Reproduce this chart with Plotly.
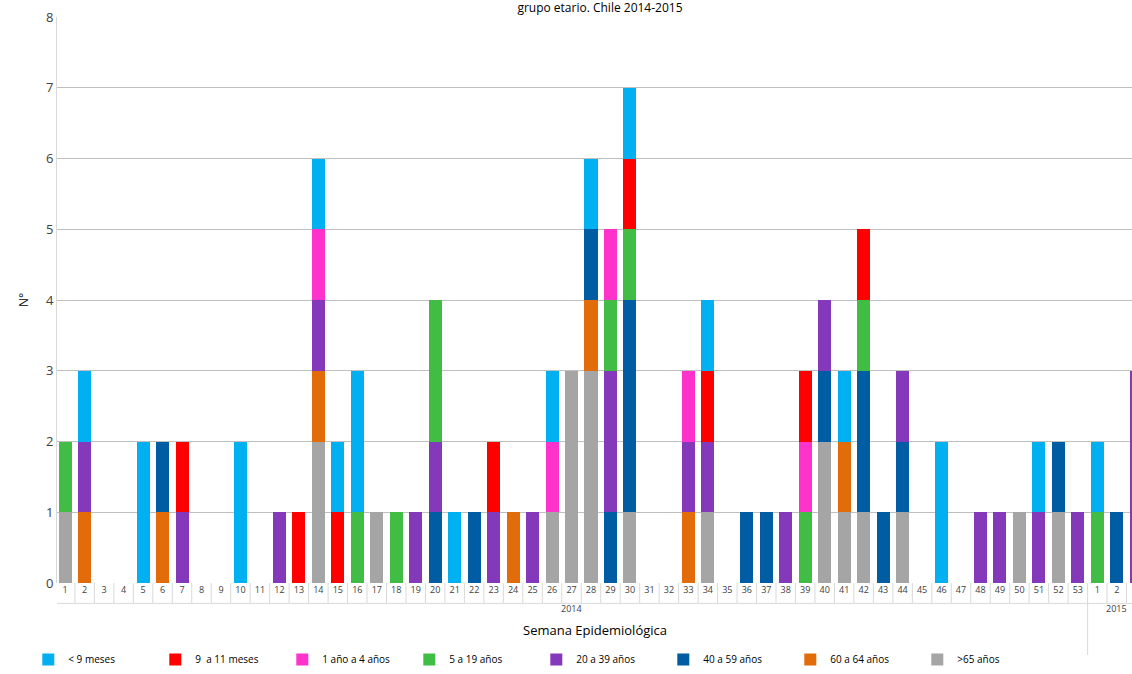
import plotly.graph_objects as go

weeks = [str(i) for i in range(1, 54)] + ["1", "2", "3"]
years = ["2014"] * 53 + ["2015"] * 3
n = len(weeks)

def series(d):
    v = [0] * n
    for k, val in d.items():
        v[k] = val
    return v

# index = position (0 = 2014 week 1 ... 53 = 2015 week 1)
gt65   = series({0:1, 13:2, 16:1, 25:1, 26:3, 27:3, 29:1, 33:1, 39:2, 40:1, 41:1, 43:1, 49:1, 51:1})
a60_64 = series({1:1, 5:1, 13:1, 23:1, 27:1, 32:1, 40:1})
a40_59 = series({5:1, 19:1, 21:1, 27:1, 28:1, 29:3, 35:1, 36:1, 39:1, 41:2, 42:1, 43:1, 51:1, 54:1})
a20_39 = series({1:1, 6:1, 11:1, 13:1, 18:1, 19:1, 22:1, 24:1, 28:2, 32:1, 33:1, 37:1, 39:1, 43:1, 47:1, 48:1, 50:1, 52:1, 55:3})
a5_19  = series({0:1, 15:1, 17:1, 19:2, 28:1, 29:1, 38:1, 41:1, 53:1})
a1_4   = series({13:1, 25:1, 28:1, 32:1, 38:1})
m9_11  = series({6:1, 12:1, 14:1, 22:1, 29:1, 33:1, 38:1, 41:1})
lt9    = series({1:1, 4:2, 9:2, 13:1, 14:1, 15:2, 20:1, 25:1, 27:1, 29:1, 33:1, 40:1, 45:2, 50:1, 53:1})

stack = [
    (">65 años", gt65, "#A5A5A5"),
    ("60 a 64 años", a60_64, "#E36C0A"),
    ("40 a 59 años", a40_59, "#005DA4"),
    ("20 a 39 años", a20_39, "#8339BA"),
    ("5 a 19 años", a5_19, "#41BD45"),
    ("1 año a 4 años", a1_4, "#FF33CC"),
    ("9  a 11 meses", m9_11, "#FF0000"),
    ("< 9 meses", lt9, "#00B0F0"),
]
legend_order = {"< 9 meses": 1, "9  a 11 meses": 2, "1 año a 4 años": 3, "5 a 19 años": 4,
                "20 a 39 años": 5, "40 a 59 años": 6, "60 a 64 años": 7, ">65 años": 8}

x = list(range(n))
fig = go.Figure()
for name, vals, col in stack:
    fig.add_trace(go.Bar(x=x, y=vals, name=name, marker_color=col, marker_line_width=0,
                         legendrank=legend_order[name]))

font = "Open Sans"
shapes = []
for i in range(n + 1):
    b = i - 0.5
    long = b in (-0.5, 52.5)
    shapes.append(dict(type="line", xref="x", yref="paper", x0=b, x1=b, y0=0,
                       y1=-0.127 if long else -0.036, line=dict(color="#D9D9D9", width=1)))
shapes.append(dict(type="line", xref="paper", yref="paper", x0=0, x1=1, y0=-0.036, y1=-0.036,
                   line=dict(color="#D9D9D9", width=1)))

fig.update_layout(
    width=1132, height=674, barmode="stack", bargap=0.33,
    plot_bgcolor="white", paper_bgcolor="white",
    margin=dict(l=57, r=0, t=17, b=91, autoexpand=False),
    font=dict(family=font, size=11, color="#404040"),
    title=dict(text="grupo etario. Chile 2014-2015", x=0.53, y=0.995, yanchor="top",
               font=dict(size=12, color="#000")),
    xaxis=dict(range=[-0.42, 54.78], tickvals=x, ticktext=weeks, tickfont=dict(size=9),
               showgrid=False, zeroline=False, showline=False, ticks="", automargin=False),
    yaxis=dict(range=[0, 8], dtick=1, gridcolor="#BFBFBF", showline=True, linecolor="#D9D9D9",
               zeroline=False, tickfont=dict(size=13), automargin=False,
               title=dict(text="N°", font=dict(size=12, color="#000"), standoff=14)),
    shapes=shapes,
    annotations=[
        dict(text="2014", x=26, y=-0.06, xref="x", yref="paper", showarrow=False, font=dict(size=9)),
        dict(text="2015", x=54.0, y=-0.06, xref="x", yref="paper", showarrow=False, font=dict(size=9)),
        dict(text="Semana Epidemiológica", x=0.5, y=-0.103, xref="paper", yref="paper",
             showarrow=False, font=dict(size=13, color="#000")),
    ],
    legend=dict(orientation="h", x=0.025, y=0.0, xref="container", yref="container",
                xanchor="left", yanchor="bottom",
                font=dict(size=10, color="#000"), traceorder="normal", itemwidth=30,
                entrywidth=82),
)
fig.write_html("out.html", config={"displayModeBar": False},
               post_script="document.body.style.margin='0';document.body.style.overflow='hidden';")
